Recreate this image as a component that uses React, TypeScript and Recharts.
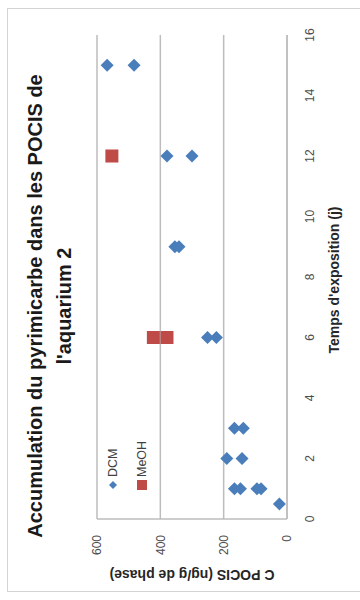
import React from "react";
import { ScatterChart, Scatter, XAxis, YAxis, CartesianGrid } from "recharts";

/* ── Données ─────────────────────────────────────────── */
const DAY_TICKS = [0, 2, 4, 6, 8, 10, 12, 14, 16];
const CONC_TICKS = [0, 200, 400, 600];

const DCM_DAYS = [0.5, 1, 1, 1, 1, 2, 2, 3, 3, 6, 6, 9, 9, 12, 12, 15, 15];
const DCM_CONC = [24, 166, 147, 95, 82, 190, 142, 166, 138, 251, 223, 354, 341, 379, 300, 568, 483];

const MEOH_DAYS = [6, 6, 12];
const MEOH_CONC = [422, 379, 553];

const BLUE = "#4a7ebb";
const RED = "#be4b48";
const GRID = "#bdbdbd";
const FONT = '"Liberation Sans", Arial, sans-serif';

const dcm = DCM_DAYS.map((x, i) => ({ x, y: DCM_CONC[i] }));
const meoh = MEOH_DAYS.map((x, i) => ({ x, y: MEOH_CONC[i] }));

/* ── Marqueurs style Excel ───────────────────────────── */
const Diamond = (p: any) => {
	const r = 6.5;
	const { cx, cy } = p;
	return (
		<polygon
			points={`${cx},${cy - r} ${cx + r},${cy} ${cx},${cy + r} ${cx - r},${cy}`}
			fill={BLUE}
		/>
	);
};

const Square = (p: any) => (
	<rect x={p.cx - 6.5} y={p.cy - 6.5} width={13} height={13} fill={RED} />
);

function LegendBox() {
	return (
		<div
			style={{
				position: "absolute",
				left: 109,
				top: 104,
				fontSize: 12.5,
				color: "#404040",
				lineHeight: "18px",
			}}
		>
			<div style={{ display: "flex", alignItems: "center", height: 18 }}>
				<svg width={12} height={12}>
					<polygon points="6,2 10,6 6,10 2,6" fill={BLUE} />
				</svg>
				<span style={{ marginLeft: 2 }}>DCM</span>
			</div>
			<div style={{ display: "flex", alignItems: "center", height: 18, marginTop: 11 }}>
				<svg width={12} height={12}>
					<rect x={1} y={1} width={10} height={10} fill={RED} />
				</svg>
				<span style={{ marginLeft: 2 }}>MeOH</span>
			</div>
		</div>
	);
}

export default function App() {
	return (
		<div
			style={{
				position: "absolute",
				left: 0,
				top: 0,
				width: 360,
				height: 600,
				overflow: "hidden",
				background: "#fff",
			}}
		>
			{/* graphique Excel tourné de 90° */}
			<div
				style={{
					position: "absolute",
					left: 0,
					top: 0,
					width: 600,
					height: 360,
					transformOrigin: "0 0",
					transform: "translate(0px, 600px) rotate(-90deg)",
					fontFamily: FONT,
				}}
			>
				<div
					style={{
						position: "absolute",
						left: 8,
						top: 7,
						width: 584,
						height: 370,
						border: "1px solid #d4d4d4",
						boxSizing: "border-box",
					}}
				/>
				<div
					style={{
						position: "absolute",
						left: -6,
						width: 600,
						top: 25,
						textAlign: "center",
						fontWeight: "bold",
						fontSize: 20,
						lineHeight: "20px",
						color: "#1a1a1a",
					}}
				>
					<div>Accumulation du pyrimicarbe dans les POCIS de</div>
					<div style={{ marginTop: 9 }}>l'aquarium 2</div>
				</div>

				<ScatterChart
					width={600}
					height={360}
					margin={{ top: 97, right: 35, bottom: 43, left: 31 }}
					style={{ position: "absolute", left: 0, top: 0 }}
				>
					<CartesianGrid vertical={false} stroke={GRID} strokeWidth={1.5} />
					<XAxis
						type="number"
						dataKey="x"
						domain={[0, 16]}
						ticks={DAY_TICKS}
						height={30}
						tickLine={false}
						tickMargin={12}
						axisLine={{ stroke: GRID, strokeWidth: 1.5 }}
						tick={{ fill: "#4d4d4d", fontSize: 12, fontFamily: FONT }}
					/>
					<YAxis
						type="number"
						dataKey="y"
						domain={[0, 600]}
						ticks={CONC_TICKS}
						width={50}
						tickLine={false}
						tickMargin={10}
						axisLine={{ stroke: GRID, strokeWidth: 1.5 }}
						tick={{ fill: "#4d4d4d", fontSize: 12, fontFamily: FONT }}
					/>
					<Scatter data={dcm} shape={<Diamond />} isAnimationActive={false} />
					<Scatter data={meoh} shape={<Square />} isAnimationActive={false} />
				</ScatterChart>

				<LegendBox />

				<div
					style={{
						position: "absolute",
						left: 220,
						width: 200,
						top: 326,
						height: 16,
						lineHeight: "16px",
						textAlign: "center",
						fontWeight: "bold",
						fontSize: 14,
						color: "#262626",
						whiteSpace: "nowrap",
					}}
				>
					Temps d'exposition (j)
				</div>
				<div
					style={{
						position: "absolute",
						left: -75,
						width: 200,
						top: 184,
						height: 16,
						lineHeight: "16px",
						textAlign: "center",
						fontWeight: "bold",
						fontSize: 14,
						color: "#262626",
						whiteSpace: "nowrap",
						transform: "rotate(-90deg)",
					}}
				>
					C POCIS (ng/g de phase)
				</div>
			</div>
		</div>
	);
}
